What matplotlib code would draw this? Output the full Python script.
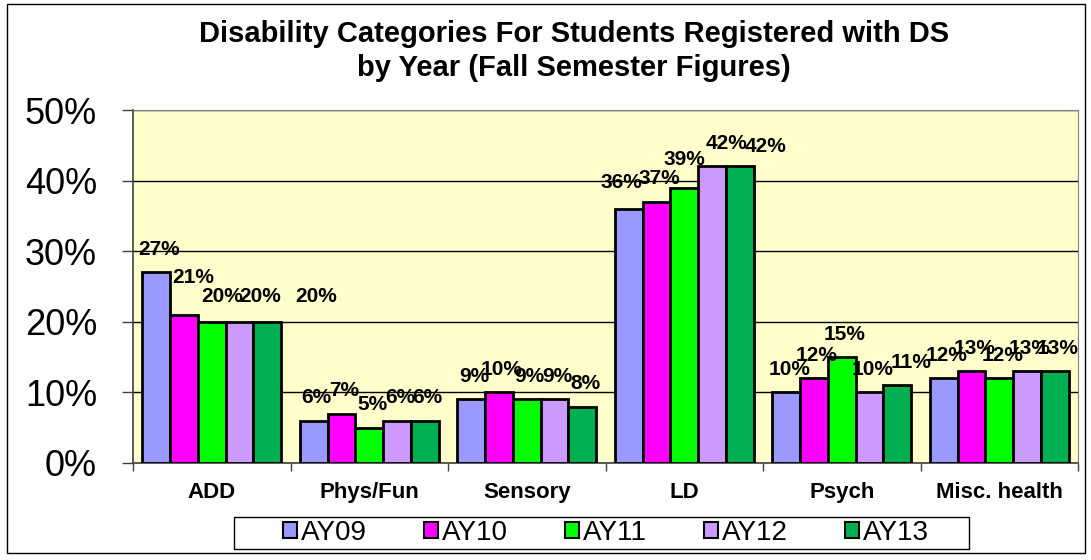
import numpy as np
import matplotlib
matplotlib.use("Agg")
import matplotlib.pyplot as plt
from matplotlib.patches import Rectangle, Patch

plt.rcParams['font.family'] = ['Liberation Sans', 'DejaVu Sans']

categories = ["ADD", "Phys/Fun", "Sensory", "LD", "Psych", "Misc. health"]
years = ["AY09", "AY10", "AY11", "AY12", "AY13"]
ay09 = [27, 6, 9, 36, 10, 12]
ay10 = [21, 7, 10, 37, 12, 13]
ay11 = [20, 5, 9, 39, 15, 12]
ay12 = [20, 6, 9, 42, 10, 13]
ay13 = [20, 6, 8, 42, 11, 13]
series = [ay09, ay10, ay11, ay12, ay13]
colors = ["#9999FF", "#FF00FF", "#00FF00", "#CC99FF", "#00B050"]

# labels that were dragged around in the original (pixels: dx, dy up)
nudges = {
    (0, 1): (6, 14), (0, 2): (7, 2), (0, 3): (18, 2), (0, 4): (46, 2),
    (3, 0): (-10, 3), (3, 2): (-3, 5), (3, 3): (12, 0), (3, 4): (23, -3),
    (4, 4): (11, 0),
}

fig = plt.figure(figsize=(10.91, 5.60), dpi=100)
ax = fig.add_axes([133 / 1091, 1 - 463 / 560, (1078 - 133) / 1091, (463 - 110) / 560])
ax.set_facecolor("#FFFFCC")

x = np.arange(len(categories))
w = 0.176
for j, vals in enumerate(series):
    pos = x + (j - 2) * w
    ax.bar(pos, vals, width=w, color=colors[j], edgecolor="black",
           linewidth=2, label=years[j], zorder=3)
    for i, v in enumerate(vals):
        dx, dy = nudges.get((i, j), (0, 0))
        ax.annotate(f"{v}%", (pos[i], v), xytext=((3 + dx) * 0.72, (23 + dy) * 0.72),
                    textcoords="offset points", ha="center", va="center",
                    fontsize=15, fontweight="bold", zorder=4)

ax.set_xlim(-0.5, len(categories) - 0.5)
ax.set_ylim(0, 50)
ax.set_yticks(range(0, 51, 10))
ax.set_yticklabels([f"{t}%" for t in range(0, 51, 10)], fontsize=26)
ax.yaxis.grid(True, color="black", linewidth=1, zorder=0)
ax.tick_params(axis="y", length=8, width=1, pad=18, color="#404040")

ax.set_xticks(x)
ax.set_xticklabels(categories, fontsize=16, fontweight="bold")
ax.set_xticks(np.arange(-0.5, len(categories), 1), minor=True)
ax.tick_params(axis="x", which="major", length=0, pad=14)
ax.tick_params(axis="x", which="minor", length=6, width=1, color="#404040")

for s in ["top", "right"]:
    ax.spines[s].set_color("#808080")
for s in ["left", "bottom"]:
    ax.spines[s].set_color("#404040")
    ax.spines[s].set_linewidth(1.2)

fig.text(574 / 1091, 1 - 51 / 560,
         "Disability Categories For Students Registered with DS\nby Year (Fall Semester Figures)",
         ha="center", va="center", fontsize=21, fontweight="bold", linespacing=1.25)

handles = [Patch(facecolor=c, edgecolor="black", linewidth=1.5) for c in colors]
leg = fig.legend(handles, years, loc="center", ncol=5,
                 bbox_to_anchor=(606 / 1091, 1 - 533 / 560), fontsize=20,
                 frameon=False, handlelength=0.5, handleheight=0.5,
                 handletextpad=0.15, columnspacing=2.05, borderpad=0.1,
                 borderaxespad=0)

# legend box is wider than the entries in the original
fig.patches.append(Rectangle((234 / 1091, 1 - 549 / 560), (969 - 234) / 1091, 32 / 560,
                             transform=fig.transFigure, fill=False,
                             edgecolor="black", linewidth=1))
fig.patches.append(Rectangle((7 / 1091, 1 - 553 / 560), 1078 / 1091, 549 / 560,
                             transform=fig.transFigure, fill=False,
                             edgecolor="black", linewidth=1))

fig.savefig("out.png", dpi=100)
